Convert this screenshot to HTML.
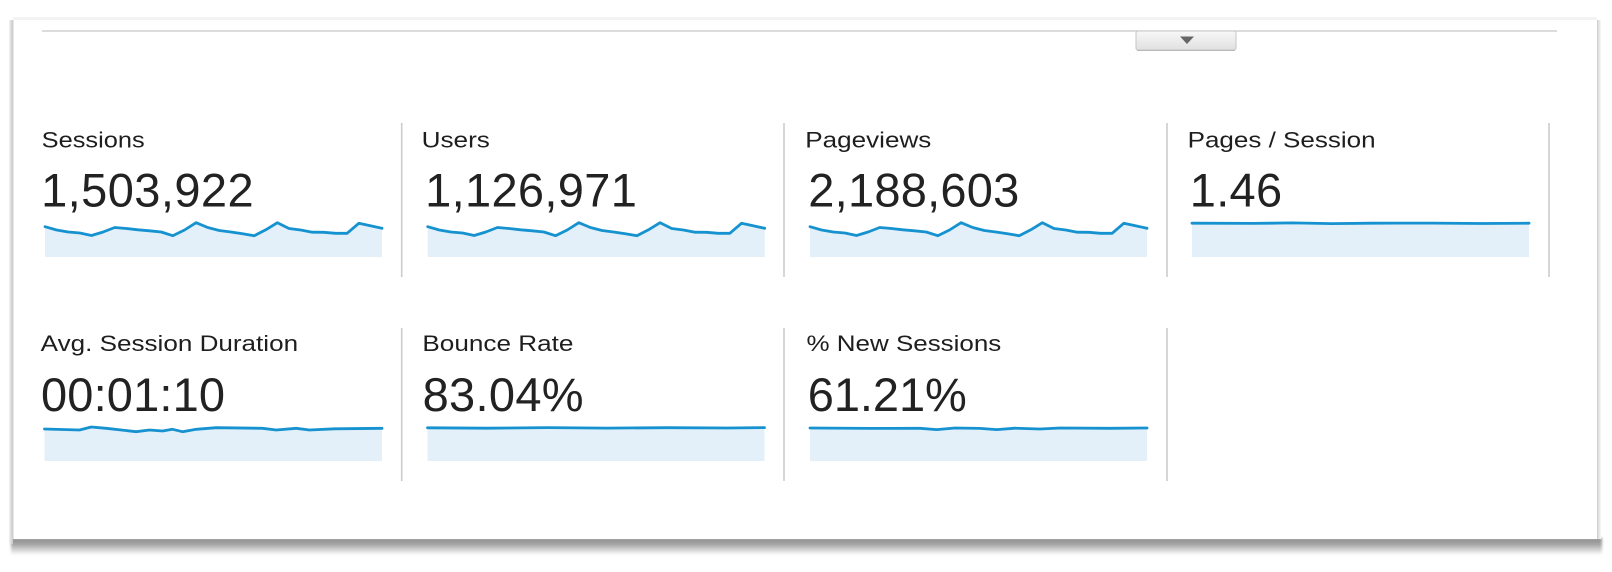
<!DOCTYPE html>
<html>
<head>
<meta charset="utf-8">
<style>
  html, body { margin: 0; padding: 0; background: #ffffff; }
  body { width: 1612px; height: 572px; overflow: hidden; }
  svg { display: block; }
  .lbl { font-family: "Liberation Sans", Arial, sans-serif; font-size: 22px; fill: #1e1e1e; }
  .num { font-family: "Liberation Sans", Arial, sans-serif; font-size: 47px; fill: #222; }
  .line { fill: none; stroke: #1592cf; stroke-width: 2.8; stroke-linejoin: round; stroke-linecap: round; }
  .area { fill: #e4f0f9; stroke: none; }
  .div { stroke: #cccccc; stroke-width: 1.6; }
</style>
</head>
<body>
<svg width="1612" height="572" viewBox="0 0 1612 572" xmlns="http://www.w3.org/2000/svg">
  <defs>
    <linearGradient id="shB" x1="0" y1="0" x2="0" y2="1">
      <stop offset="0" stop-color="#8c8c8c"/>
      <stop offset="0.4" stop-color="#a8a8a8"/>
      <stop offset="0.75" stop-color="#dcdcdc"/>
      <stop offset="1" stop-color="#ffffff"/>
    </linearGradient>
    <linearGradient id="shL" x1="1" y1="0" x2="0" y2="0">
      <stop offset="0" stop-color="#c4c4c4"/>
      <stop offset="1" stop-color="#f4f4f4"/>
    </linearGradient>
    <linearGradient id="shR" x1="0" y1="0" x2="1" y2="0">
      <stop offset="0" stop-color="#cccccc"/>
      <stop offset="1" stop-color="#fafafa"/>
    </linearGradient>
    <linearGradient id="btn" x1="0" y1="0" x2="0" y2="1">
      <stop offset="0" stop-color="#f8f8f8"/>
      <stop offset="1" stop-color="#e0e0e0"/>
    </linearGradient>
    <filter id="blur1" x="-5%" y="-50%" width="110%" height="200%">
      <feGaussianBlur stdDeviation="1.2"/>
    </filter>
    <path id="spk" d="M0,4.7 L11.6,8 L23.2,10 L34.9,11 L46.5,13.5 L58.1,10 L69.7,5.5 L81.3,6.5 L93,7.8 L104.6,8.8 L116.2,10 L127.8,13.7 L139.5,8 L151.1,0.7 L162.7,5.5 L174.3,8.5 L185.9,10 L197.6,11.8 L209.2,13.7 L220.8,7.8 L232.4,0.7 L244,6.5 L255.7,8 L267.3,10.2 L278.9,10.3 L290.5,11.3 L302.1,11.3 L313.8,1.3 L325.4,3.7 L337,6.3"/>
    <path id="spkA" d="M0,4.7 L11.6,8 L23.2,10 L34.9,11 L46.5,13.5 L58.1,10 L69.7,5.5 L81.3,6.5 L93,7.8 L104.6,8.8 L116.2,10 L127.8,13.7 L139.5,8 L151.1,0.7 L162.7,5.5 L174.3,8.5 L185.9,10 L197.6,11.8 L209.2,13.7 L220.8,7.8 L232.4,0.7 L244,6.5 L255.7,8 L267.3,10.2 L278.9,10.3 L290.5,11.3 L302.1,11.3 L313.8,1.3 L325.4,3.7 L337,6.3 L337,35 L0,35 Z"/>
  </defs>

  <!-- panel shadows -->
  <rect x="11" y="538" width="1591" height="17" fill="url(#shB)" filter="url(#blur1)"/>
  <rect x="9" y="20" width="4" height="524" fill="url(#shL)"/>
  <rect x="1597" y="20" width="4" height="519" fill="url(#shR)"/>
  <rect x="13" y="17" width="1584" height="3" fill="#f3f3f3"/>
  <!-- panel -->
  <rect x="13" y="20" width="1584" height="519" fill="#ffffff"/>
  <line x1="13" y1="20" x2="13" y2="539" stroke="#d0d0d0" stroke-width="1"/>

  <!-- top rule and button -->
  <line x1="42" y1="31" x2="1557" y2="31" stroke="#c8c8c8" stroke-width="1.3"/>
  <rect x="1136" y="31" width="100" height="19" rx="2" fill="url(#btn)" stroke="#c6c6c6" stroke-width="1"/>
  <line x1="1137" y1="50.5" x2="1235" y2="50.5" stroke="#b8b8b8" stroke-width="1"/>
  <polygon points="1180,36.5 1194,36.5 1187,44" fill="#666666"/>

  <!-- dividers row 1 -->
  <line class="div" x1="401.7" y1="123" x2="401.7" y2="277"/>
  <line class="div" x1="784" y1="123" x2="784" y2="277"/>
  <line class="div" x1="1167" y1="123" x2="1167" y2="277"/>
  <line class="div" x1="1549" y1="123" x2="1549" y2="277"/>
  <!-- dividers row 2 -->
  <line class="div" x1="401.7" y1="328" x2="401.7" y2="481"/>
  <line class="div" x1="784" y1="328" x2="784" y2="481"/>
  <line class="div" x1="1167" y1="328" x2="1167" y2="481"/>

  <!-- Row 1 labels -->
  <text class="lbl" x="41.7" y="147.3" textLength="103" lengthAdjust="spacingAndGlyphs">Sessions</text>
  <text class="lbl" x="421.6" y="147.3" textLength="68.3" lengthAdjust="spacingAndGlyphs">Users</text>
  <text class="lbl" x="805.3" y="147.3" textLength="126" lengthAdjust="spacingAndGlyphs">Pageviews</text>
  <text class="lbl" x="1187.6" y="147.3" textLength="188" lengthAdjust="spacingAndGlyphs">Pages / Session</text>

  <!-- Row 1 numbers -->
  <text class="num" x="41.1" y="206.5" textLength="212.5" lengthAdjust="spacing">1,503,922</text>
  <text class="num" x="425.1" y="206.5" textLength="211.8" lengthAdjust="spacing">1,126,971</text>
  <text class="num" x="808.3" y="206.5" textLength="211" lengthAdjust="spacing">2,188,603</text>
  <text class="num" x="1189.8" y="206.5" textLength="92.3" lengthAdjust="spacing">1.46</text>

  <!-- Row 1 sparklines -->
  <g transform="translate(45,222)">
    <use href="#spkA" class="area"/>
    <use href="#spk" class="line"/>
  </g>
  <g transform="translate(427.7,222)">
    <use href="#spkA" class="area"/>
    <use href="#spk" class="line"/>
  </g>
  <g transform="translate(810,222)">
    <use href="#spkA" class="area"/>
    <use href="#spk" class="line"/>
  </g>
  <g transform="translate(1192,222)">
    <path class="area" d="M0,1.3 L337,1.3 L337,35 L0,35 Z"/>
    <path class="line" d="M0,1.2 L60,1.4 L100,0.9 L140,1.6 L180,1.2 L240,1.1 L290,1.5 L337,1.2"/>
  </g>

  <!-- Row 2 labels -->
  <text class="lbl" x="40.7" y="351" textLength="257.4" lengthAdjust="spacingAndGlyphs">Avg. Session Duration</text>
  <text class="lbl" x="422.4" y="351" textLength="151" lengthAdjust="spacingAndGlyphs">Bounce Rate</text>
  <text class="lbl" x="806.5" y="351" textLength="194.8" lengthAdjust="spacingAndGlyphs">% New Sessions</text>

  <!-- Row 2 numbers -->
  <text class="num" x="41" y="411" textLength="184" lengthAdjust="spacing">00:01:10</text>
  <text class="num" x="422.6" y="411" textLength="161" lengthAdjust="spacing">83.04%</text>
  <text class="num" x="807.8" y="411" textLength="159" lengthAdjust="spacing">61.21%</text>

  <!-- Row 2 sparklines -->
  <g transform="translate(44.5,426)">
    <path class="area" d="M0,3 L35,4 L46.7,1 L61.7,2.3 L91.7,5.7 L105,4 L118,5 L128,3.3 L138,5.7 L151.7,3.3 L171.7,1.7 L218,2.3 L231.7,4 L251.7,2.3 L265,4 L290,2.8 L337.5,2.3 L337.5,35 L0,35 Z"/>
    <path class="line" d="M0,3 L35,4 L46.7,1 L61.7,2.3 L91.7,5.7 L105,4 L118,5 L128,3.3 L138,5.7 L151.7,3.3 L171.7,1.7 L218,2.3 L231.7,4 L251.7,2.3 L265,4 L290,2.8 L337.5,2.3"/>
  </g>
  <g transform="translate(427.5,426)">
    <path class="area" d="M0,1.7 L337,1.7 L337,35 L0,35 Z"/>
    <path class="line" d="M0,1.8 L60,2.2 L120,1.6 L180,2.1 L240,1.7 L300,2 L337,1.6"/>
  </g>
  <g transform="translate(810,426)">
    <path class="area" d="M0,2 L337,2 L337,35 L0,35 Z"/>
    <path class="line" d="M0,2 L60,2.4 L110,2.3 L126.7,3.6 L145,2 L170,2.4 L186.7,3.6 L205,2.2 L230,3 L250,2 L300,2.3 L337,2"/>
  </g>
</svg>
</body>
</html>
